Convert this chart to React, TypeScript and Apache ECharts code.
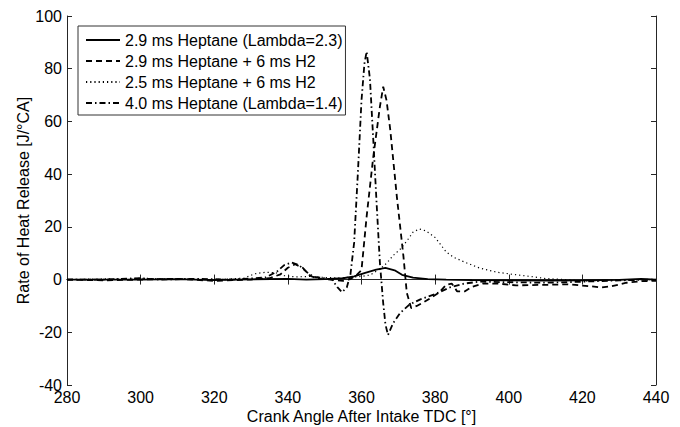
import React, { useEffect, useRef } from "react";
import * as echarts from "echarts";

const xTicks = { min: 280, max: 440, interval: 20 };
const yTicks = { min: -40, max: 100, interval: 20 };

const seriesNames = [
  "2.9 ms Heptane (Lambda=2.3)",
  "2.9 ms Heptane + 6 ms H2",
  "2.5 ms Heptane + 6 ms H2",
  "4.0 ms Heptane (Lambda=1.4)",
];

// [crank angle, rate of heat release]
const heptane29: [number, number][] = [
  [280, 0], [290, 0], [300, 0], [310, 0.2], [320, -0.2], [330, 0.1], [340, 0.3],
  [345, 0], [350, 0.2], [355, 0.5], [358, 1.2], [361, 2.5], [364, 3.8], [366.5, 4.4],
  [369, 3.5], [371, 1.8], [374, 0.7], [378, 0.2], [383, 0], [390, -0.2], [400, -0.3],
  [410, -0.4], [420, -0.3], [430, -0.1], [436, 0.3], [440, 0],
];

const heptane29H2: [number, number][] = [
  [280, 0], [290, -0.3], [300, 0], [310, 0.3], [320, -0.5], [330, 0], [335, 0.5],
  [338, 2], [340, 4.5], [342, 5.8], [344, 4.5], [346, 1.5], [348, 0.3], [352, 0],
  [355, -0.5], [357, 0.2], [358.5, 1.5], [360, 3.6], [361.4, 24], [363.2, 46.6],
  [365, 65.6], [365.9, 73.2], [366.8, 68], [367.8, 57], [369.6, 31.5], [371.4, 8.7],
  [372.3, -5], [373.5, -10.8], [375, -10], [377, -8.5], [379, -6.8], [381, -5],
  [383, -2], [384.5, -1.5], [386, -4.5], [388, -4.5], [390, -2.8], [393, -1.5],
  [397, -1.5], [402, -2.2], [410, -2], [416, -1.8], [422, -2.5], [425, -3],
  [428, -2.5], [432, -1.2], [436, -0.6], [440, -0.5],
];

const heptane25H2: [number, number][] = [
  [280, 0], [300, 0.5], [310, 0.2], [320, 0], [328, 0.5], [331, 2.2], [334, 2.8],
  [337, 2.5], [339, 1.5], [342, 1], [346, 1.2], [350, 0.8], [354, 0.6], [358, 1],
  [360, 1.2], [362.3, 1.7], [365, 4], [366.9, 6.3], [368.5, 9], [370.5, 11.5],
  [372.5, 15], [374, 18], [375.7, 19.2], [377.5, 18.5], [380, 16], [383, 10.5],
  [385, 8.5], [387.7, 6.8], [392, 4.4], [396.8, 2.8], [401, 2], [405.8, 1.2],
  [410, 0.4], [415, 0], [420, -0.5], [430, -0.3], [440, 0],
];

const heptane40: [number, number][] = [
  [280, 0], [290, 0], [300, 0.5], [305, 0], [315, 0.3], [325, 0], [334, 0.8],
  [337, 3], [339, 5.5], [341, 6.5], [343, 5.5], [345, 3], [347, 1], [350, 0.5],
  [352, 0], [353.5, -3], [354.7, -4.8], [356, -3], [357, 2], [358, 14], [359, 40],
  [360, 68], [360.8, 82], [361.4, 86.5], [362.3, 76], [363.2, 53], [364.1, 29],
  [365, 6.3], [365.9, -9], [366.5, -17], [367.2, -21], [368.6, -16.5], [370.5, -12.7],
  [373, -9.5], [376, -7.5], [380, -5.5], [384, -3], [388, -1.5], [392, -0.8],
  [400, -1], [410, -1.2], [420, -0.8], [430, -0.3], [440, 0],
];

const FONT = "'Liberation Sans', Arial, sans-serif";
const AXIS_COLOR = "#262626";

export default function App() {
  const ref = useRef<HTMLDivElement>(null);
  useEffect(() => {
    if (!ref.current) return;
    const chart = echarts.init(ref.current, undefined, { renderer: "svg" });
    const axisCommon = {
      axisLine: { show: true, lineStyle: { color: AXIS_COLOR, width: 1 } },
      axisTick: { show: true, inside: true, length: 5, lineStyle: { color: AXIS_COLOR } },
      splitLine: { show: false },
    };
    const lineSeries = (
      name: string,
      data: [number, number][],
      type: any,
      width: number
    ) => ({
      name,
      type: "line",
      data,
      symbol: "none",
      showSymbol: false,
      smooth: false,
      color: "#000",
      itemStyle: { color: "#000", opacity: 0 },
      lineStyle: { color: "#000", width, type },
      xAxisIndex: 0,
      yAxisIndex: 0,
    });
    chart.setOption({
      animation: false,
      backgroundColor: "#fff",
      textStyle: { fontFamily: FONT },
      grid: {
        left: 67,
        right: 24,
        top: 16,
        bottom: 42,
        containLabel: false,
        outerBoundsMode: "none",
      },
      legend: {
        orient: "vertical",
        left: 78,
        top: 26,
        padding: [5, 3, 3, 7],
        itemGap: 3,
        itemWidth: 34,
        itemHeight: 10,
        borderColor: "#333",
        borderWidth: 1,
        backgroundColor: "#fff",
        itemStyle: { opacity: 0 },
        textStyle: { fontFamily: FONT, fontSize: 16, color: "#000", lineHeight: 18 },
        data: seriesNames,
      },
      xAxis: [
        {
          type: "value",
          ...xTicks,
          position: "bottom",
          ...axisCommon,
          axisLabel: { color: "#000", fontSize: 16, fontFamily: FONT, margin: 4 },
          name: "Crank Angle After Intake TDC [°]",
          nameLocation: "middle",
          nameGap: 23,
          nameMoveOverlap: false,
          nameTextStyle: { color: "#000", fontSize: 16, fontFamily: FONT },
        },
        {
          type: "value",
          ...xTicks,
          position: "top",
          ...axisCommon,
          axisLabel: { show: false },
        },
      ],
      yAxis: [
        {
          type: "value",
          ...yTicks,
          position: "left",
          ...axisCommon,
          axisLabel: { color: "#000", fontSize: 16, fontFamily: FONT, margin: 5 },
          name: "Rate of Heat Release [J/°CA]",
          nameLocation: "middle",
          nameGap: 36,
          nameMoveOverlap: false,
          nameTextStyle: { color: "#000", fontSize: 16, fontFamily: FONT },
        },
        {
          type: "value",
          ...yTicks,
          position: "right",
          ...axisCommon,
          axisLabel: { show: false },
        },
      ],
      series: [
        lineSeries(seriesNames[0], heptane29, "solid", 1.8),
        lineSeries(seriesNames[1], heptane29H2, [6, 4], 1.8),
        lineSeries(seriesNames[2], heptane25H2, [1.2, 3], 1.2),
        lineSeries(seriesNames[3], heptane40, [6, 3, 1.5, 3], 1.8),
      ],
    });
    return () => chart.dispose();
  }, []);
  return <div ref={ref} style={{ width: 680, height: 427, position: "absolute", left: 0, top: 0 }} />;
}
